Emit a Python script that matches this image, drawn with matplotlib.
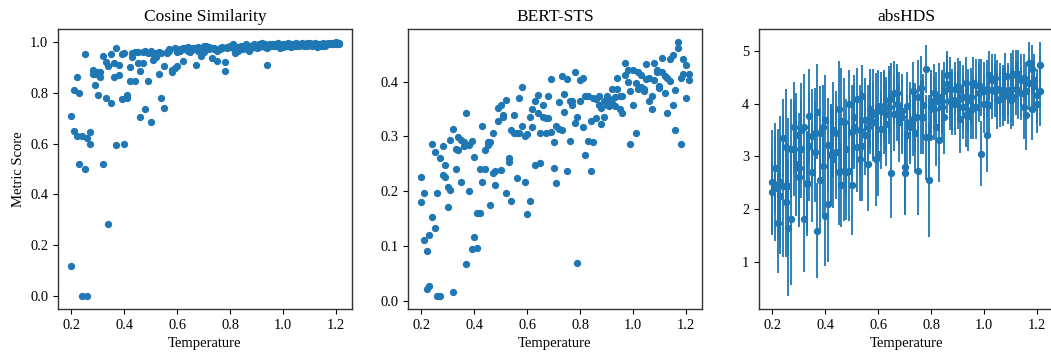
import numpy as np
import matplotlib.pyplot as plt

plt.rcParams['font.family'] = ['Liberation Serif', 'DejaVu Serif']

# temperatures (two runs per temperature)
temps = [0.20, 0.21, 0.22, 0.23, 0.24, 0.25, 0.26, 0.27, 0.28, 0.29,
         0.30, 0.31, 0.32, 0.33, 0.34, 0.35, 0.36, 0.37, 0.38, 0.39,
         0.40, 0.41, 0.42, 0.43, 0.44, 0.45, 0.46, 0.47, 0.48, 0.49,
         0.50, 0.51, 0.52, 0.53, 0.54, 0.55, 0.56, 0.57, 0.58, 0.59,
         0.60, 0.61, 0.62, 0.63, 0.64, 0.65, 0.66, 0.67, 0.68, 0.69,
         0.70, 0.71, 0.72, 0.73, 0.74, 0.75, 0.76, 0.77, 0.78, 0.79,
         0.80, 0.81, 0.82, 0.83, 0.84, 0.85, 0.86, 0.87, 0.88, 0.89,
         0.90, 0.91, 0.92, 0.93, 0.94, 0.95, 0.96, 0.97, 0.98, 0.99,
         1.00, 1.01, 1.02, 1.03, 1.04, 1.05, 1.06, 1.07, 1.08, 1.09,
         1.10, 1.11, 1.12, 1.13, 1.14, 1.15, 1.16, 1.17, 1.18, 1.19,
         1.20, 1.21]

cos_a = [0.71, 0.81, 0.86, 0.80, 0.63, 0.95, 0.62, 0.645, 0.89, 0.83,
         0.79, 0.88, 0.945, 0.92, 0.905, 0.95, 0.915, 0.975, 0.91, 0.95,
         0.955, 0.79, 0.90, 0.94, 0.845, 0.915, 0.885, 0.915, 0.735, 0.845,
         0.685, 0.93, 0.94, 0.875, 0.78, 0.74, 0.955, 0.965, 0.88, 0.895,
         0.905, 0.965, 0.925, 0.97, 0.98, 0.96, 0.97, 0.91, 0.965, 0.945,
         0.985, 0.985, 0.97, 0.935, 0.975, 0.925, 0.97, 0.975, 0.885, 0.975,
         0.985, 0.99, 0.955, 0.98, 0.975, 0.985, 0.98, 0.965, 0.985, 0.99,
         0.985, 0.99, 0.995, 0.98, 0.91, 0.985, 0.99, 0.985, 0.99, 0.975,
         0.99, 0.985, 0.995, 0.98, 0.99, 0.985, 0.99, 0.995, 0.99, 0.985,
         0.995, 0.99, 0.995, 0.98, 0.99, 0.985, 0.99, 0.995, 0.99, 0.995,
         1.0, 0.995]
cos_b = [0.12, 0.65, 0.63, 0.52, 0.00, 0.50, 0.00, 0.60, 0.875, 0.875,
         0.88, 0.86, 0.52, 0.78, 0.285, 0.76, 0.86, 0.595, 0.87, 0.775,
         0.60, 0.78, 0.845, 0.955, 0.96, 0.96, 0.705, 0.96, 0.965, 0.955,
         0.965, 0.95, 0.955, 0.96, 0.955, 0.905, 0.96, 0.97, 0.89, 0.975,
         0.96, 0.97, 0.975, 0.975, 0.965, 0.97, 0.975, 0.975, 0.98, 0.97,
         0.96, 0.97, 0.98, 0.975, 0.97, 0.965, 0.975, 0.98, 0.92, 0.98,
         0.98, 0.975, 0.97, 0.965, 0.985, 0.97, 0.99, 0.985, 0.975, 0.98,
         0.975, 0.98, 0.985, 0.99, 0.975, 0.99, 0.985, 0.99, 0.995, 0.985,
         0.98, 0.99, 0.985, 0.99, 0.985, 0.995, 0.985, 0.99, 0.985, 0.995,
         0.99, 0.985, 0.99, 0.99, 0.985, 0.995, 0.985, 0.99, 0.995, 0.99,
         0.99, 0.99]

bert_a = [0.226, 0.196, 0.09, 0.12, 0.287, 0.271, 0.197, 0.261, 0.283, 0.248,
          0.208, 0.293, 0.314, 0.278, 0.299, 0.293, 0.282, 0.342, 0.284, 0.292,
          0.262, 0.161, 0.241, 0.32, 0.24, 0.29, 0.29, 0.307, 0.237, 0.352,
          0.357, 0.34, 0.367, 0.261, 0.312, 0.34, 0.307, 0.371, 0.39, 0.30,
          0.305, 0.335, 0.351, 0.365, 0.376, 0.307, 0.357, 0.307, 0.374, 0.405,
          0.289, 0.32, 0.363, 0.41, 0.378, 0.405, 0.365, 0.357, 0.417, 0.335,
          0.404, 0.406, 0.374, 0.374, 0.328, 0.371, 0.368, 0.374, 0.352, 0.365,
          0.374, 0.368, 0.387, 0.372, 0.407, 0.374, 0.374, 0.434, 0.422, 0.383,
          0.422, 0.398, 0.417, 0.412, 0.383, 0.432, 0.406, 0.373, 0.434, 0.422,
          0.393, 0.443, 0.411, 0.406, 0.441, 0.448, 0.385, 0.473, 0.407, 0.441,
          0.43, 0.414]
bert_b = [0.18, 0.11, 0.022, 0.027, 0.153, 0.132, 0.008, 0.008, 0.229, 0.226,
          0.171, 0.203, 0.016, 0.241, 0.276, 0.217, 0.29, 0.067, 0.201, 0.095,
          0.116, 0.096, 0.161, 0.216, 0.275, 0.285, 0.174, 0.234, 0.212, 0.328,
          0.238, 0.335, 0.196, 0.253, 0.182, 0.307, 0.224, 0.307, 0.32, 0.217,
          0.159, 0.183, 0.318, 0.248, 0.342, 0.251, 0.335, 0.334, 0.333, 0.309,
          0.242, 0.215, 0.314, 0.312, 0.344, 0.236, 0.291, 0.365, 0.324, 0.069,
          0.365, 0.317, 0.266, 0.292, 0.236, 0.289, 0.334, 0.357, 0.322, 0.336,
          0.357, 0.355, 0.361, 0.355, 0.387, 0.35, 0.343, 0.413, 0.40, 0.287,
          0.357, 0.307, 0.387, 0.39, 0.387, 0.405, 0.365, 0.351, 0.403, 0.417,
          0.388, 0.417, 0.379, 0.342, 0.402, 0.358, 0.312, 0.461, 0.287, 0.415,
          0.371, 0.404]

hds_a = [2.51, 2.78, 1.73, 2.24, 3.35, 2.14, 1.64, 1.81, 3.56, 3.40,
         2.61, 3.50, 3.56, 2.50, 3.77, 2.70, 3.45, 3.85, 3.44, 3.55,
         3.70, 2.09, 3.05, 3.51, 3.45, 3.91, 3.68, 3.65, 3.15, 4.00,
         3.46, 3.75, 4.09, 3.50, 4.14, 3.70, 3.55, 3.91, 3.81, 3.84,
         3.95, 3.90, 3.84, 3.61, 4.07, 2.68, 3.81, 4.21, 3.65, 3.75,
         2.80, 3.41, 3.56, 4.25, 3.44, 2.73, 4.31, 3.75, 4.66, 2.55,
         4.05, 4.20, 3.56, 3.32, 4.05, 3.75, 4.55, 4.05, 4.00, 4.29,
         4.33, 3.72, 3.94, 3.78, 3.76, 3.88, 3.94, 4.36, 4.20, 3.05,
         4.00, 3.41, 4.55, 4.45, 4.50, 4.07, 4.10, 4.23, 4.18, 4.27,
         4.52, 4.57, 4.29, 4.57, 4.45, 4.50, 3.78, 4.78, 3.91, 4.33,
         4.16, 4.73]
hds_b = [2.32, 2.40, 2.48, 2.52, 2.43, 3.18, 2.43, 3.15, 3.15, 2.86,
         2.78, 3.15, 1.81, 2.48, 3.20, 3.39, 3.09, 1.59, 2.55, 2.82,
         1.87, 3.21, 3.02, 2.96, 3.09, 2.70, 2.46, 2.73, 2.70, 2.73,
         2.46, 3.56, 3.17, 2.95, 3.20, 3.40, 2.86, 3.75, 3.66, 2.96,
         3.05, 3.52, 3.95, 3.81, 3.94, 4.13, 4.21, 4.00, 3.91, 3.86,
         2.68, 3.95, 3.66, 3.71, 3.75, 4.13, 3.75, 3.97, 3.36, 3.36,
         3.94, 3.91, 4.05, 4.13, 3.94, 4.25, 4.37, 4.29, 4.07, 4.00,
         4.07, 4.26, 4.13, 4.39, 4.07, 4.13, 4.39, 3.94, 4.35, 4.31,
         4.25, 4.29, 3.97, 4.26, 4.25, 4.29, 4.27, 4.13, 4.52, 4.16,
         4.07, 4.13, 4.57, 4.26, 4.20, 3.93, 4.25, 4.39, 4.66, 4.45,
         4.00, 4.24]
hds_err_a = [1.00, 0.85, 0.95, 1.10, 0.75, 1.05, 1.30, 1.25, 0.85, 0.80,
             0.95, 0.90, 1.00, 0.95, 0.89, 0.95, 0.85, 0.90, 0.90, 0.80,
             0.85, 1.10, 0.95, 0.90, 0.80, 0.90, 1.00, 0.85, 0.95, 0.65,
             0.90, 0.80, 0.60, 0.85, 0.60, 0.80, 0.80, 0.75, 0.85, 0.75,
             0.70, 0.70, 0.80, 0.80, 0.65, 0.85, 0.70, 0.55, 0.75, 0.70,
             0.90, 0.75, 0.70, 0.55, 0.75, 0.85, 0.60, 0.70, 0.45, 1.08,
             0.60, 0.55, 0.75, 0.80, 0.60, 0.70, 0.45, 0.55, 0.60, 0.50,
             0.55, 0.65, 0.60, 0.60, 0.65, 0.55, 0.60, 0.50, 0.55, 0.62,
             0.55, 0.70, 0.45, 0.50, 0.45, 0.55, 0.55, 0.50, 0.50, 0.50,
             0.45, 0.45, 0.50, 0.45, 0.50, 0.45, 0.65, 0.40, 0.60, 0.50,
             0.50, 0.45]
hds_err_b = [0.80, 1.00, 1.05, 1.25, 1.35, 1.10, 1.30, 0.95, 0.90, 1.00,
             1.05, 0.95, 1.00, 1.00, 1.05, 0.90, 0.95, 0.90, 1.00, 0.95,
             0.95, 0.90, 0.95, 0.95, 0.90, 1.00, 0.80, 0.95, 0.90, 0.95,
             0.95, 0.80, 0.85, 0.80, 1.05, 0.75, 0.90, 0.70, 0.75, 0.90,
             0.80, 0.75, 0.65, 0.70, 0.70, 0.65, 0.60, 0.70, 0.70, 0.70,
             0.80, 0.65, 0.75, 0.70, 0.65, 0.70, 0.70, 0.60, 0.80, 0.80,
             0.65, 0.60, 0.55, 0.65, 0.65, 0.55, 0.55, 0.60, 0.60, 0.60,
             0.55, 0.55, 0.60, 0.50, 0.60, 0.55, 0.50, 0.60, 0.50, 0.55,
             0.55, 0.55, 0.60, 0.55, 0.50, 0.55, 0.50, 0.55, 0.45, 0.55,
             0.55, 0.55, 0.45, 0.55, 0.50, 0.60, 0.55, 0.50, 0.45, 0.50,
             0.55, 0.66]

x = temps + temps

fig = plt.figure(figsize=(10.51, 3.54), dpi=100)
ax1 = fig.add_axes([0.0552, 0.127, 0.2797, 0.791])
ax2 = fig.add_axes([0.3882, 0.127, 0.2797, 0.791])
ax3 = fig.add_axes([0.7222, 0.127, 0.2797, 0.791])

ax1.scatter(x, cos_a + cos_b, s=18, color='#1f77b4')
ax1.set_title("Cosine Similarity", fontsize=12.5)
ax1.set_ylabel("Metric Score", fontsize=10.5)

ax2.scatter(x, bert_a + bert_b, s=18, color='#1f77b4')
ax2.set_title("BERT-STS", fontsize=12.5)
ax2.set_yticks([0.0, 0.1, 0.2, 0.3, 0.4])

ax3.errorbar(x, hds_a + hds_b, yerr=hds_err_a + hds_err_b, fmt='o',
             markersize=4.3, color='#1f77b4', elinewidth=1.3, capsize=0)
ax3.set_title("absHDS", fontsize=12.5)

for ax in (ax1, ax2, ax3):
    ax.set_xlabel("Temperature", fontsize=10.5)
    ax.set_xticks([0.2, 0.4, 0.6, 0.8, 1.0, 1.2])
    ax.tick_params(labelsize=10.4)
    for sp in ax.spines.values():
        sp.set_color('#333333')
        sp.set_linewidth(1.0)

fig.savefig("out.png", dpi=100)
